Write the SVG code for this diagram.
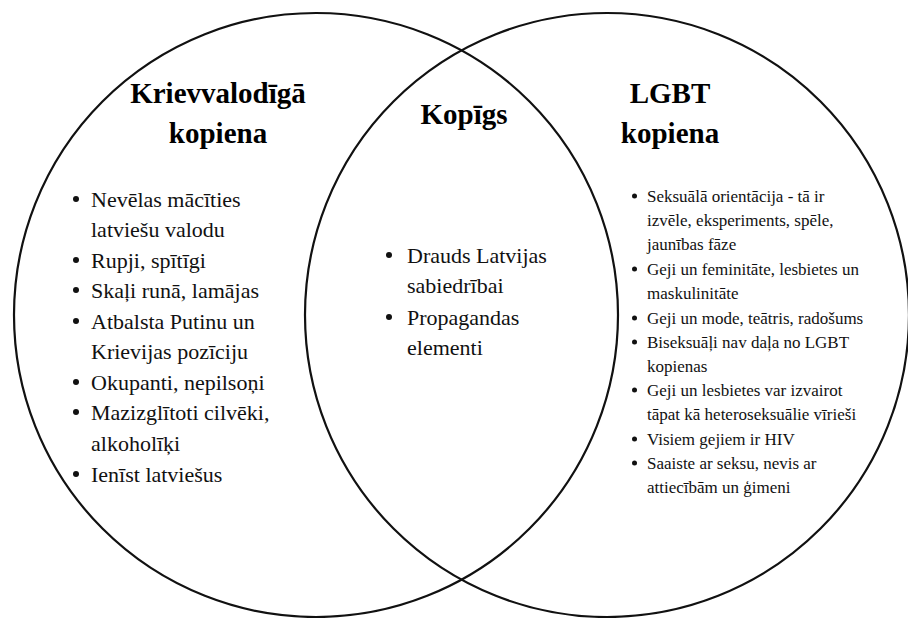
<svg xmlns="http://www.w3.org/2000/svg" width="908" height="618" viewBox="0 0 908 618">
<style>
.c{fill:none;stroke:#111;stroke-width:2.2}
.t{font-family:"Liberation Serif",serif;font-weight:bold;font-size:29px;fill:#000;text-anchor:middle}
.l{font-family:"Liberation Serif",serif;font-size:22px;fill:#111}
.r{font-family:"Liberation Serif",serif;font-size:17px;fill:#111}
.b{fill:#111}
</style>
<rect width="908" height="618" fill="#fff"/>
<g id="connectors"></g>
<g id="left-circle">
<circle class="c" cx="316" cy="315" r="302"/>
<text class="t" x="218" y="103">Krievvalodīgā</text>
<text class="t" x="218" y="143">kopiena</text>
<text class="l" x="91" y="207">Nevēlas mācīties</text>
<text class="l" x="91" y="237">latviešu valodu</text>
<text class="l" x="91" y="268">Rupji, spītīgi</text>
<text class="l" x="91" y="298">Skaļi runā, lamājas</text>
<text class="l" x="91" y="329">Atbalsta Putinu un</text>
<text class="l" x="91" y="359">Krievijas pozīciju</text>
<text class="l" x="91" y="390">Okupanti, nepilsoņi</text>
<text class="l" x="91" y="420">Mazizglītoti cilvēki,</text>
<text class="l" x="91" y="451">alkoholīķi</text>
<text class="l" x="91" y="482">Ienīst latviešus</text>
<g class="b">
<circle cx="76" cy="199" r="3"/>
<circle cx="76" cy="260" r="3"/>
<circle cx="76" cy="290" r="3"/>
<circle cx="76" cy="321" r="3"/>
<circle cx="76" cy="382" r="3"/>
<circle cx="76" cy="412" r="3"/>
<circle cx="76" cy="474" r="3"/>
</g>
</g>
<g id="right-circle">
<circle class="c" cx="607" cy="315" r="302"/>
<text class="t" x="670" y="103">LGBT</text>
<text class="t" x="670" y="143">kopiena</text>
<text class="r" x="647" y="202">Seksuālā orientācija - tā ir</text>
<text class="r" x="647" y="226">izvēle, eksperiments, spēle,</text>
<text class="r" x="647" y="250">jaunības fāze</text>
<text class="r" x="647" y="275">Geji un feminitāte, lesbietes un</text>
<text class="r" x="647" y="299">maskulinitāte</text>
<text class="r" x="647" y="324">Geji un mode, teātris, radošums</text>
<text class="r" x="647" y="348">Biseksuāļi nav daļa no LGBT</text>
<text class="r" x="647" y="372">kopienas</text>
<text class="r" x="647" y="396">Geji un lesbietes var izvairot</text>
<text class="r" x="647" y="420">tāpat kā heteroseksuālie vīrieši</text>
<text class="r" x="647" y="445">Visiem gejiem ir HIV</text>
<text class="r" x="647" y="469">Saaiste ar seksu, nevis ar</text>
<text class="r" x="647" y="493">attiecībām un ģimeni</text>
<g class="b">
<circle cx="634.5" cy="196" r="2.5"/>
<circle cx="634.5" cy="269" r="2.5"/>
<circle cx="634.5" cy="318" r="2.5"/>
<circle cx="634.5" cy="342" r="2.5"/>
<circle cx="634.5" cy="390" r="2.5"/>
<circle cx="634.5" cy="439" r="2.5"/>
<circle cx="634.5" cy="463" r="2.5"/>
</g>
</g>
<g id="overlap">
<text class="t" x="464" y="124">Kopīgs</text>
<text class="l" x="407" y="263">Drauds Latvijas</text>
<text class="l" x="407" y="293">sabiedrībai</text>
<text class="l" x="407" y="325">Propagandas</text>
<text class="l" x="407" y="355">elementi</text>
<g class="b">
<circle cx="389" cy="255" r="3"/>
<circle cx="389" cy="317" r="3"/>
</g>
</g>
</svg>
